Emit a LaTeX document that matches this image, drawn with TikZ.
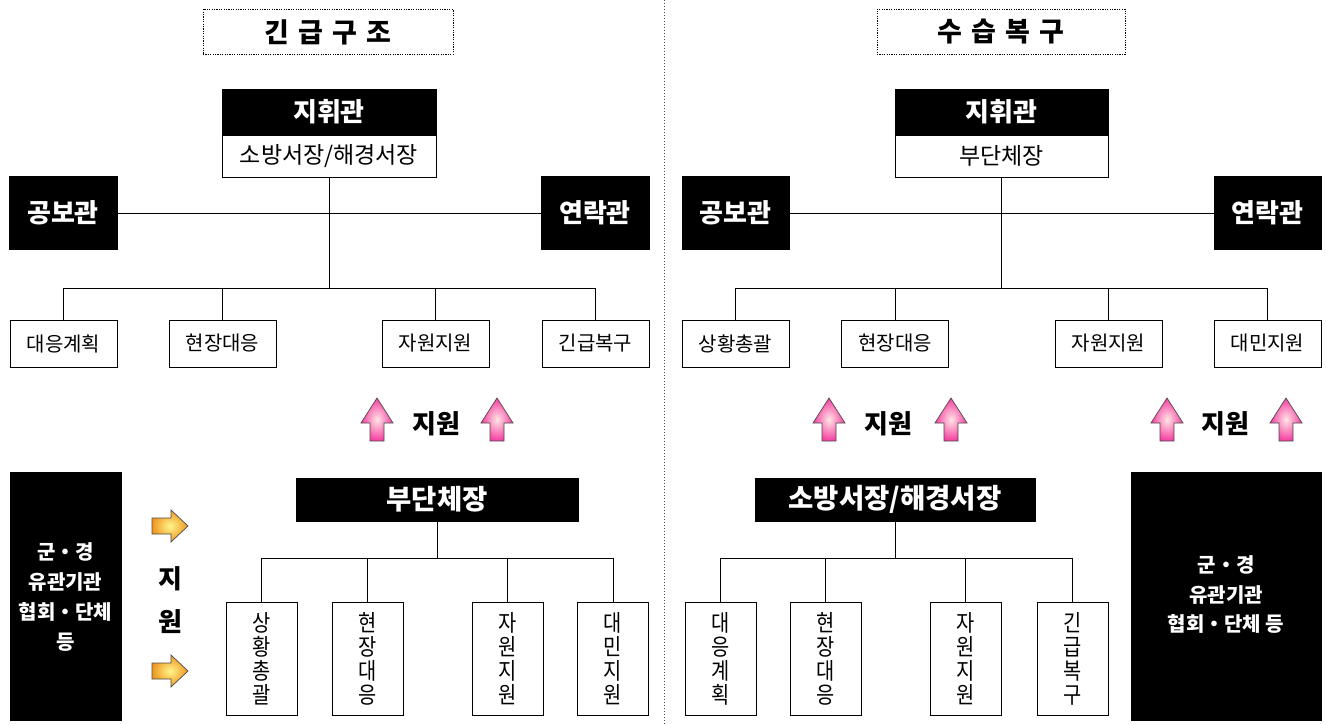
\documentclass[tikz,border=0pt]{standalone}
\usepackage{fontspec}
\setmainfont{Noto Sans CJK KR}
\newfontfamily\krnarrow{Noto Sans CJK KR}[FakeStretch=0.86]
\usetikzlibrary{positioning}
\tikzset{
  blk/.style={fill=black, draw=black, text=white, font=\bfseries\fontsize{26}{28}\selectfont, inner sep=0pt},
  wbox/.style={draw=black, line width=1pt, fill=white, inner sep=0pt, font=\fontsize{20}{22}\selectfont},
  vbox/.style={draw=black, line width=1pt, fill=white, inner sep=0pt, minimum width=71pt, minimum height=113pt, align=center, font=\krnarrow\fontsize{23}{24}\selectfont},
  ttl/.style={draw=black, line width=1pt, dash pattern=on 1.2pt off 1.2pt, inner sep=0pt, minimum width=250pt, minimum height=45pt, font=\bfseries\fontsize{27}{29}\selectfont},
  conn/.style={line width=1pt, draw=black},
  lbl/.style={font=\bfseries\fontsize{26}{28}\selectfont, inner sep=0pt},
  orgtxt/.style={text=white, align=center, inner sep=0pt}
}
\newcommand{\pinkup}[2]{%
  \begin{scope}[shift={(#1,#2)}]
    \shade[inner color=pink!40!white, outer color={rgb,255:red,245;green,60;blue,160}, draw=black!70, line width=0.7pt]
      (0,25) -- (16,0) -- (32,25) -- (23,25) -- (23,43) -- (9,43) -- (9,25) -- cycle;
  \end{scope}}
\newcommand{\orangeright}[2]{%
  \begin{scope}[shift={(#1,#2)}]
    \shade[inner color={rgb,255:red,255;green,245;blue,140}, outer color={rgb,255:red,240;green,150;blue,30}, draw=black!70, line width=0.7pt]
      (0,8) -- (19,8) -- (19,0) -- (36,16) -- (19,32) -- (19,24) -- (0,24) -- cycle;
  \end{scope}}
\begin{document}
\begin{tikzpicture}[x=1pt,y=-1pt]
\useasboundingbox (0,0) rectangle (1326,725);
\fill[white] (0,0) rectangle (1326,725);
% divider
\draw[black!70, line width=0.8pt, dash pattern=on 1pt off 2pt] (664,0) -- (664,725);

% ================= LEFT =================
\node[ttl] (t1) at (328,32) {긴\hspace{9pt}급\hspace{9pt}구\hspace{9pt}조};
\node[blk, minimum width=214pt, minimum height=46pt] (cmd1) at (329,112) {지휘관};
\node[wbox, minimum width=214pt, minimum height=42pt, font=\fontsize{23}{25}\selectfont] (cmd1w) at (329,156) {소방서장/해경서장};
\node[blk, minimum width=108pt, minimum height=73pt] (pr1) at (63,213) {공보관};
\node[blk, minimum width=108pt, minimum height=73pt] (li1) at (595,213) {연락관};
\node[wbox, minimum width=107pt, minimum height=47pt] (c1a) at (63.5,343.5) {대응계획};
\node[wbox, minimum width=107pt, minimum height=47pt] (c1b) at (222.5,343.5) {현장대응};
\node[wbox, minimum width=107pt, minimum height=47pt] (c1c) at (435.5,343.5) {자원지원};
\node[wbox, minimum width=107pt, minimum height=47pt] (c1d) at (595.5,343.5) {긴급복구};
\coordinate (j1) at (329,288);
\draw[conn] (pr1.east) -- (li1.west);
\draw[conn] (cmd1w.south) -- (j1);
\draw[conn] (c1a.north) |- (j1);
\draw[conn] (c1b.north) |- (j1);
\draw[conn] (c1c.north) |- (j1);
\draw[conn] (c1d.north) |- (j1);

\pinkup{361}{398}
\node[lbl] (s1) at (436,424) {지원};
\pinkup{481}{398}

\node[blk, minimum width=111pt, minimum height=248pt] (org1) at (65.5,596) {};
\node[orgtxt, font=\bfseries\fontsize{20}{29.7}\selectfont] (org1t) at (65.5,597) {군・경\\유관기관\\협회・단체\\등};
\orangeright{152}{510}
\orangeright{152}{655}
\node[lbl] (s2a) at (170,579) {지};
\node[lbl] (s2b) at (170,622) {원};

\node[blk, minimum width=282pt, minimum height=43pt, font=\bfseries\fontsize{27.5}{29}\selectfont] (sub1) at (437,499.5) {부단체장};
\node[vbox] (v1a) at (261.5,658.5) {상\\황\\총\\괄};
\node[vbox] (v1b) at (367.5,658.5) {현\\장\\대\\응};
\node[vbox] (v1c) at (507.5,658.5) {자\\원\\지\\원};
\node[vbox] (v1d) at (613,658.5) {대\\민\\지\\원};
\coordinate (j2) at (437,558);
\draw[conn] (sub1.south) -- (j2);
\draw[conn] (v1a.north) |- (j2);
\draw[conn] (v1b.north) |- (j2);
\draw[conn] (v1c.north) |- (j2);
\draw[conn] (v1d.north) |- (j2);

% ================= RIGHT =================
\node[ttl, minimum width=248pt] (t2) at (1001,32) {수\hspace{9pt}습\hspace{9pt}복\hspace{9pt}구};
\node[blk, minimum width=213pt, minimum height=46pt] (cmd2) at (1001.5,112) {지휘관};
\node[wbox, minimum width=213pt, minimum height=42pt, font=\fontsize{23}{25}\selectfont] (cmd2w) at (1001.5,156) {부단체장};
\node[blk, minimum width=107pt, minimum height=73pt] (pr2) at (735.5,213) {공보관};
\node[blk, minimum width=107pt, minimum height=73pt] (li2) at (1267.5,213) {연락관};
\node[wbox, minimum width=107pt, minimum height=47pt] (c2a) at (735.5,343.5) {상황총괄};
\node[wbox, minimum width=107pt, minimum height=47pt] (c2b) at (895,343.5) {현장대응};
\node[wbox, minimum width=107pt, minimum height=47pt] (c2c) at (1108.5,343.5) {자원지원};
\node[wbox, minimum width=107pt, minimum height=47pt] (c2d) at (1267.5,343.5) {대민지원};
\coordinate (j3) at (1001.5,288);
\draw[conn] (pr2.east) -- (li2.west);
\draw[conn] (cmd2w.south) -- (j3);
\draw[conn] (c2a.north) |- (j3);
\draw[conn] (c2b.north) |- (j3);
\draw[conn] (c2c.north) |- (j3);
\draw[conn] (c2d.north) |- (j3);

\pinkup{813}{398}
\node[lbl] (s3) at (888,424) {지원};
\pinkup{935}{398}
\pinkup{1151}{398}
\node[lbl] (s4) at (1225,424) {지원};
\pinkup{1270}{398}

\node[blk, minimum width=280pt, minimum height=43pt, font=\bfseries\fontsize{27.5}{29}\selectfont] (sub2) at (895,499.5) {소방서장/해경서장};
\node[vbox] (v2a) at (720.5,658.5) {대\\응\\계\\획};
\node[vbox] (v2b) at (825.5,658.5) {현\\장\\대\\응};
\node[vbox] (v2c) at (965.5,658.5) {자\\원\\지\\원};
\node[vbox] (v2d) at (1072.5,658.5) {긴\\급\\복\\구};
\coordinate (j4) at (895,558);
\draw[conn] (sub2.south) -- (j4);
\draw[conn] (v2a.north) |- (j4);
\draw[conn] (v2b.north) |- (j4);
\draw[conn] (v2c.north) |- (j4);
\draw[conn] (v2d.north) |- (j4);

\node[blk, minimum width=190pt, minimum height=248pt] (org2) at (1226,596) {};
\node[orgtxt, font=\bfseries\fontsize{20}{29.5}\selectfont] (org2t) at (1226,595) {군・경\\유관기관\\협회・단체 등};
\end{tikzpicture}
\end{document}
